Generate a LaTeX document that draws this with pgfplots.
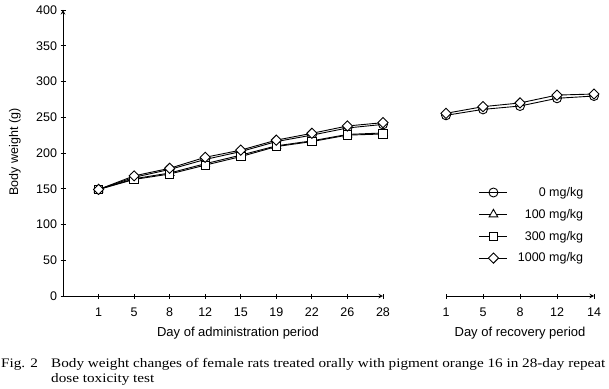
\documentclass[border=0pt]{standalone}
\usepackage{fontspec}
\setmainfont{Liberation Sans}
\newfontfamily\capfont[FakeStretch=1.17]{Liberation Serif}
\usepackage{pgfplots}
\pgfplotsset{compat=1.18}
\pgfplotsset{
  common/.style={scale only axis, anchor=south west, ymin=0, ymax=400, height=286pt,
    font=\fontsize{12.5}{14}\selectfont, /pgf/number format/assume math mode=true,
    tick style={black, line width=0.8pt}, major tick length=5pt, tick align=outside,
    axis line style={line width=1pt, -}, clip=false,
    xticklabel style={yshift=-6pt},
    every axis plot/.append style={black, line width=0.9pt, mark options={fill=white, solid, line width=0.8pt}},
    legend image code/.code={\draw[mark repeat=2,mark phase=2] plot coordinates {(0pt,0pt) (14pt,0pt) (28pt,0pt)};}
  },
  mcirc/.style={mark=o, mark size=4.5pt, mark options={fill=white}},
  mtri/.style={mark=triangle*, mark size=5pt, mark options={fill=white}},
  msq/.style={mark=square*, mark size=4.2pt, mark options={fill=white}},
  mdia/.style={mark=square*, mark size=3.6pt, mark options={fill=white, rotate=45}},
}
\begin{document}
\begin{tikzpicture}
\useasboundingbox (0pt,0pt) rectangle (609pt,388pt);
\begin{axis}[common, at={(63pt,92pt)}, width=320pt, xmin=-1, xmax=8,
  axis x line=bottom, axis y line=left,
  xtick={0,...,8}, xticklabels={1,5,8,12,15,19,22,26,28},
  ytick={0,50,...,400},
  legend style={at={(1.29,0.395)}, anchor=north west, draw=none, fill=none,
    legend cell align=right, row sep=7.3pt, font=\fontsize{12.5}{14}\selectfont,
    /tikz/every odd column/.append style={column sep=8pt}},
]
\addplot[mcirc] coordinates {(0,149) (1,166) (2,177) (3,191) (4,202) (5,216) (6,225) (7,235) (8,240)};
\addlegendentry{0 mg/kg}
\addplot[mtri] coordinates {(0,149) (1,164) (2,172) (3,185) (4,197) (5,210) (6,217) (7,226) (8,228)};
\addlegendentry{100 mg/kg}
\addplot[msq] coordinates {(0,149) (1,163) (2,170.6) (3,183) (4,195) (5,209) (6,216) (7,225) (8,226.6)};
\addlegendentry{300 mg/kg}
\addplot[mdia] coordinates {(0,149) (1,168) (2,178.6) (3,194) (4,204) (5,218) (6,227.5) (7,237.8) (8,242.4)};
\addlegendentry{1000 mg/kg}
\end{axis}
\begin{axis}[common, at={(446pt,92pt)}, width=148pt, xmin=0, xmax=4,
  axis x line=bottom, axis y line=none,
  xtick={0,...,4}, xticklabels={1,5,8,12,14},
]
\addplot[mcirc] coordinates {(0,252.7) (1,261) (2,265.7) (3,276.5) (4,279.7)};
\addplot[mdia] coordinates {(0,255.5) (1,264.8) (2,270) (3,281) (4,282.5)};
\end{axis}
\node[rotate=90, font=\fontsize{12.5}{14}\selectfont] at (15pt,236pt) {Body weight (g)};
\node[font=\fontsize{13}{15}\selectfont] at (238pt,55pt) {Day of administration period};
\node[font=\fontsize{13}{15}\selectfont] at (520pt,55pt) {Day of recovery period};
\node[anchor=base west, inner sep=0, font=\capfont\fontsize{13}{15}\selectfont] at (1pt,21pt) {Fig. 2};
\node[anchor=base west, inner sep=0, font=\capfont\fontsize{13}{15}\selectfont] at (51pt,21pt) {Body weight changes of female rats treated orally with pigment orange 16 in 28-day repeat};
\node[anchor=base west, inner sep=0, font=\capfont\fontsize{13}{15}\selectfont] at (51pt,6pt) {dose toxicity test};
\end{tikzpicture}
\end{document}
